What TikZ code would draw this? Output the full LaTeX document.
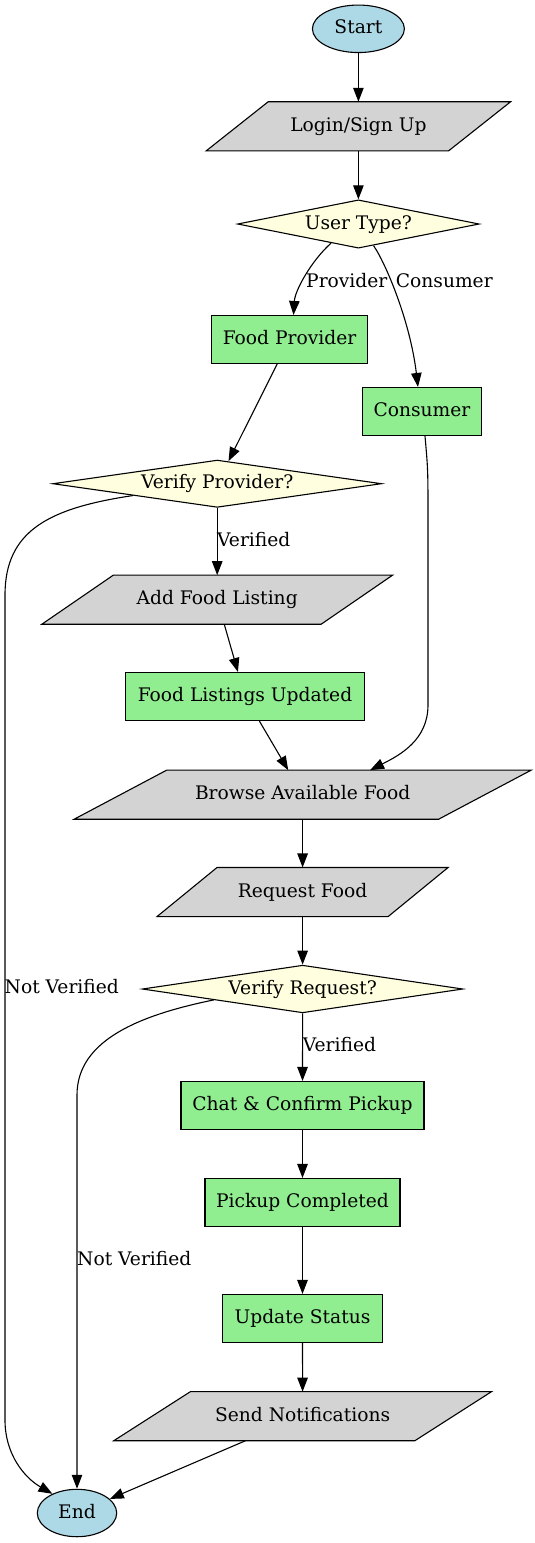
\documentclass[tikz,border=0pt]{standalone}
\usepackage{fontspec}
\setmainfont{DejaVu Serif}
\usetikzlibrary{shapes.geometric,arrows.meta,backgrounds,calc}
\definecolor{lblue}{RGB}{173,216,230}
\definecolor{lgray}{RGB}{211,211,211}
\definecolor{lyellow}{RGB}{255,255,224}
\definecolor{lgreen}{RGB}{144,238,144}
\begin{document}
\begin{tikzpicture}[x=1pt,y=-1pt,
  base/.style={font=\fontsize{18.67}{22}\selectfont, text height=14pt, text depth=4pt, inner sep=0pt, line width=1.1pt},
  term/.style={base, ellipse, draw, fill=lblue},
  proc/.style={base, rectangle, draw, fill=lgreen, minimum height=48pt},
  dec/.style={base, diamond, draw, fill=lyellow, aspect=6},
  io/.style={base, rectangle, minimum height=48pt},
  para/.style={draw, fill=lgray, line width=1.1pt},
  conn/.style={-{Triangle[length=14pt,width=10.5pt]}, line width=1.1pt},
  lbl/.style={font=\fontsize{18.67}{22}\selectfont, text height=14pt, text depth=4pt, inner sep=0pt, anchor=west}]
\useasboundingbox (0,0) rectangle (535,1543);

% nodes
\node[term, minimum width=92pt, minimum height=47.5pt] (start) at (358.4,28.8) {Start};
\node[io, minimum width=303.3pt] (login) at (358.4,126.3) {Login/Sign Up};
\node[dec, minimum width=241.6pt, minimum height=48.3pt] (ut) at (358.4,224) {User Type?};
\node[proc, minimum width=156pt] (fp) at (289.5,339.5) {Food Provider};
\node[proc, minimum width=119pt] (cons) at (422,411.5) {Consumer};
\node[dec, minimum width=328.8pt, minimum height=47.3pt] (vp) at (217.2,483.7) {Verify Provider?};
\node[io, minimum width=349.7pt] (afl) at (217.2,599.7) {Add Food Listing};
\node[proc, minimum width=239pt] (flu) at (245,696.5) {Food Listings Updated};
\node[io, minimum width=456pt] (browse) at (302.6,794.7) {Browse Available Food};
\node[io, minimum width=290pt] (req) at (302.6,892) {Request Food};
\node[dec, minimum width=320.6pt, minimum height=47.7pt] (vr) at (302.6,989) {Verify Request?};
\node[proc, minimum width=243pt] (chat) at (302.5,1105.5) {Chat \& Confirm Pickup};
\node[proc, minimum width=195pt] (pc) at (302.5,1202.5) {Pickup Completed};
\node[proc, minimum width=160pt] (us) at (302.5,1318.5) {Update Status};
\node[io, minimum width=376.7pt] (send) at (302.6,1416.2) {Send Notifications};
\node[term, minimum width=79.4pt, minimum height=47.4pt] (end) at (77,1513) {End};

% parallelogram outlines
\begin{scope}[on background layer]
\path[para] ([xshift=62pt]login.north west) -- (login.north east) -- ([xshift=-62pt]login.south east) -- (login.south west) -- cycle;
\path[para] ([xshift=71.5pt]afl.north west) -- (afl.north east) -- ([xshift=-71.5pt]afl.south east) -- (afl.south west) -- cycle;
\path[para] ([xshift=92.6pt]browse.north west) -- (browse.north east) -- ([xshift=-92.6pt]browse.south east) -- (browse.south west) -- cycle;
\path[para] ([xshift=60pt]req.north west) -- (req.north east) -- ([xshift=-60pt]req.south east) -- (req.south west) -- cycle;
\path[para] ([xshift=76.7pt]send.north west) -- (send.north east) -- ([xshift=-76.7pt]send.south east) -- (send.south west) -- cycle;
\end{scope}

% labels
\node[lbl] (lprov) at (306,282) {Provider};
\node[lbl] (lcons) at (395.7,282) {Consumer};
\node[lbl] (lver1) at (217,541.7) {Verified};
\node[lbl] (lnv1) at (4.5,988.3) {Not Verified};
\node[lbl] (lver2) at (302.7,1046.7) {Verified};
\node[lbl] (lnv2) at (77,1260.7) {Not Verified};

% connectors
\draw[conn] (start) -- (login);
\draw[conn] (login) -- (ut);
\draw[conn] (ut.215) .. controls (312,260) and (295,290) .. ([xshift=4pt]fp.north);
\draw[conn] (ut.305) .. controls (385,262) and (410,320) .. ([xshift=-4pt]cons.north);
\draw[conn] (fp) -- (vp);
\draw[conn] (vp) -- (afl);
\draw[conn] (vp.188) .. controls (50,508) and (5,530) .. (5,595) -- (5,1420) .. controls (5,1455) and (25,1478) .. (end.142);
\draw[conn] (afl) -- (flu);
\draw[conn] (flu) -- (browse);
\draw[conn] ([xshift=3pt]cons.south) .. controls (428,470) .. (428,520) -- (428,705) .. controls (428,740) and (400,755) .. ([xshift=67.5pt]browse.north);
\draw[conn] (browse) -- (req);
\draw[conn] (req) -- (vr);
\draw[conn] (vr) -- (chat);
\draw[conn] (vr.187) .. controls (140,1015) and (77,1040) .. (77,1095) -- (end);
\draw[conn] (chat) -- (pc);
\draw[conn] (pc) -- (us);
\draw[conn] (us) -- (send);
\draw[conn] (send) -- (end);
\end{tikzpicture}
\end{document}
